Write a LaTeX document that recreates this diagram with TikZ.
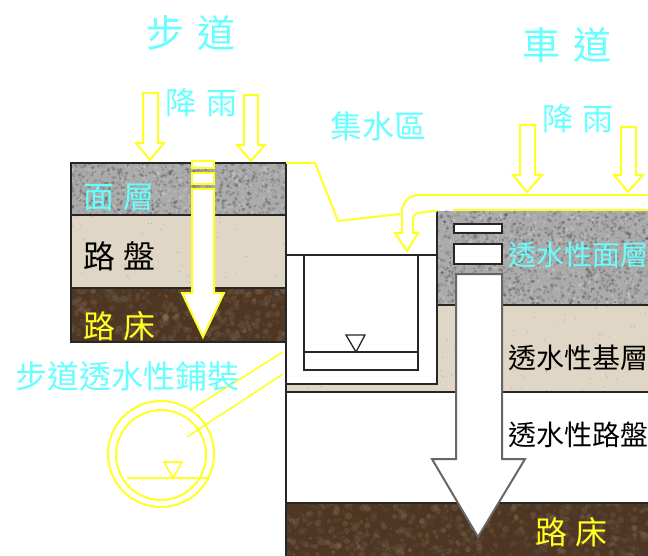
\documentclass[tikz,border=0pt]{standalone}
\usepackage{fontspec}
\newfontfamily\cjk{Noto Sans CJK TC}
\definecolor{rainc}{HTML}{66FFFF}
\definecolor{yel}{HTML}{FFFF22}
\definecolor{grav}{HTML}{ABABAB}
\definecolor{sand}{HTML}{DFD6C6}
\definecolor{soil}{HTML}{4E3622}
\newcommand{\gravelfill}[5]{% x0 y0 w h n
  \begin{scope}
  \clip (#1,#2) rectangle ++(#3,#4);
  \fill[grav] (#1,#2) rectangle ++(#3,#4);
  \foreach \i in {1,...,#5}{
    \pgfmathsetmacro\px{#1+rnd*#3}
    \pgfmathsetmacro\py{#2+rnd*#4}
    \pgfmathsetmacro\sh{int(15+rnd*60)}
    \pgfmathsetmacro\rr{.7+rnd*1.3}
    \fill[black!\sh!white,opacity=.4] (\px,\py) circle (\rr);
  }
  \end{scope}}
\newcommand{\sandfill}[5]{%
  \begin{scope}
  \clip (#1,#2) rectangle ++(#3,#4);
  \fill[sand] (#1,#2) rectangle ++(#3,#4);
  \foreach \i in {1,...,#5}{
    \pgfmathsetmacro\px{#1+rnd*#3}
    \pgfmathsetmacro\py{#2+rnd*#4}
    \fill[black!45!sand,opacity=.45] (\px,\py) circle (.6);
  }
  \end{scope}}
\newcommand{\soilfill}[5]{%
  \begin{scope}
  \clip (#1,#2) rectangle ++(#3,#4);
  \fill[soil] (#1,#2) rectangle ++(#3,#4);
  \foreach \i in {1,...,#5}{
    \pgfmathsetmacro\px{#1+rnd*#3}
    \pgfmathsetmacro\py{#2+rnd*#4}
    \pgfmathsetmacro\sh{int(30+rnd*70)}
    \pgfmathsetmacro\rr{1+rnd*2.5}
    \fill[black!\sh!brown!70!white,opacity=.22] (\px,\py) circle (\rr);
  }
  \end{scope}}
\tikzset{
  lbl/.style={inner sep=0pt,font=\cjk\fontsize{#1}{#1}\selectfont},
  ln/.style={draw=black!85,line width=1.3pt},
  yl/.style={draw=yel,line width=2pt,line join=miter},
  yarrow/.style={draw=yel,fill=white,line width=2pt},
  garrow/.style={draw=black!60,fill=white,line width=2pt},
  slab/.style={draw=black!85,fill=white,line width=1.4pt},
}
\begin{document}
\begin{tikzpicture}[x=1pt,y=-1pt]
\useasboundingbox (0,0) rectangle (648,556);
\pgfmathsetseed{42}
% left pavement
\gravelfill{71}{163}{215}{52}{1500}
\sandfill{71}{215}{215}{73}{50}
\soilfill{71}{288}{215}{54}{420}
\draw[ln] (71,163) rectangle (286,342);
\draw[ln] (71,215) -- (286,215) (71,288) -- (286,288);
% right pavement
\gravelfill{437}{211}{211}{94}{2600}
\sandfill{286}{305}{362}{87}{120}
\fill[white] (286,305) rectangle (437,384);
\soilfill{286}{503}{362}{53}{620}
\draw[ln] (437,305) -- (648,305);
\draw[ln] (286,392) -- (648,392);
\draw[ln] (286,503) -- (648,503);
\draw[ln] (286,342) -- (286,556);
% pit
\draw[ln,fill=white] (286,255) -- (437,255) -- (437,384) -- (286,384) -- cycle;
\draw[ln] (437,211) -- (437,255);
\draw[ln] (304,255) -- (304,370) -- (418,370) -- (418,255);
\draw[ln] (304,352) -- (418,352);
\draw[ln,fill=white] (346,335) -- (365,335) -- (356,352) -- cycle;
% left big arrow
\draw[yarrow] (192,161) rectangle (214,168);
\draw[yarrow] (192,173) rectangle (214,184);
\draw[yarrow] (192,189) -- (214,189) -- (214,293) -- (224,293) -- (203,337) -- (182,293) -- (192,293) -- cycle;
% rain arrows
\draw[yarrow] (143,93) -- (158,93) -- (158,143) -- (164,143) -- (150,160) -- (136,143) -- (143,143) -- cycle;
\draw[yarrow] (244,95) -- (258,95) -- (258,145) -- (265,145) -- (251,161) -- (237,145) -- (244,145) -- cycle;
\draw[yarrow] (520,125) -- (535,125) -- (535,175) -- (542,175) -- (527,192) -- (513,175) -- (520,175) -- cycle;
\draw[yarrow] (621,127) -- (636,127) -- (636,175) -- (643,175) -- (628,192) -- (614,175) -- (621,175) -- cycle;
% surface run-off
\draw[yl] (437,195) -- (648,195);
\draw[yl] (453,210) -- (648,210);
\coordinate (ledgeL) at (286,163);
\coordinate (ledgeA) at (315,163);
\coordinate (ledgeB) at (338,221);
\coordinate (ledgeC) at (400,214);
\draw[yl] (ledgeL) -- (ledgeA) -- (ledgeB) -- (ledgeC);
\draw[yarrow,fill=none] (437,195) -- (417,195) .. controls (407,196) and (402,204) .. (402,213) -- (402,233) -- (395,233) -- (407,251) -- (418,233) -- (413,233) -- (413,219) .. controls (413,214) and (418,212) .. (425,212) -- (437,211);
% right big arrow
\draw[slab] (454,224) rectangle (502,233);
\draw[slab] (454,244) rectangle (502,264);
\draw[garrow] (456,274) -- (502,274) -- (502,459) -- (525,459) -- (478,537) -- (432,459) -- (456,459) -- cycle;
% detail circle
\coordinate (leadA) at (283,352);
\coordinate (leadB) at (283,374);
\coordinate (leadC) at (189,411);
\coordinate (leadD) at (187,437);
\draw[yl,line width=1.6pt] (leadA) -- (leadC);
\draw[yl,line width=1.6pt] (leadB) -- (leadD);
\draw[yl,fill=none] (161,454) circle (53);
\draw[yl,fill=none] (161,455) circle (45);
\draw[yl] (127,478) -- (207,478);
\draw[yl,line width=1.6pt] (164,462) -- (182,462) -- (173,478) -- cycle;
% labels
\node[lbl=38,text=rainc] (sidewalk) at (191,33) {步\hspace{13pt}道};
\node[lbl=38,text=rainc] (roadway) at (567,45) {車\hspace{13pt}道};
\node[lbl=31,text=rainc] (rainL) at (201.5,103) {降\hspace{10pt}雨};
\node[lbl=31,text=rainc] (rainR) at (578,119) {降\hspace{9pt}雨};
\node[lbl=32,text=rainc] (catch) at (378,126) {集水區};
\node[lbl=31,text=rainc] (surfL) at (119,197) {面\hspace{9pt}層};
\node[lbl=32,text=black] (baseL) at (119.5,256) {路\hspace{8pt}盤};
\node[lbl=32,text=yel] (subL) at (119.5,326) {路\hspace{8pt}床};
\node[lbl=28,text=rainc] (surfR) at (578,255) {透水性面層};
\node[lbl=28,text=black] (baseR) at (578,358) {透水性基層};
\node[lbl=28,text=black] (courseR) at (578,435) {透水性路盤};
\node[lbl=32,text=yel] (subR) at (571.5,532) {路\hspace{8pt}床};
\node[lbl=32,text=rainc] (permeable) at (127.5,376) {步道透水性鋪裝};
\end{tikzpicture}
\end{document}
